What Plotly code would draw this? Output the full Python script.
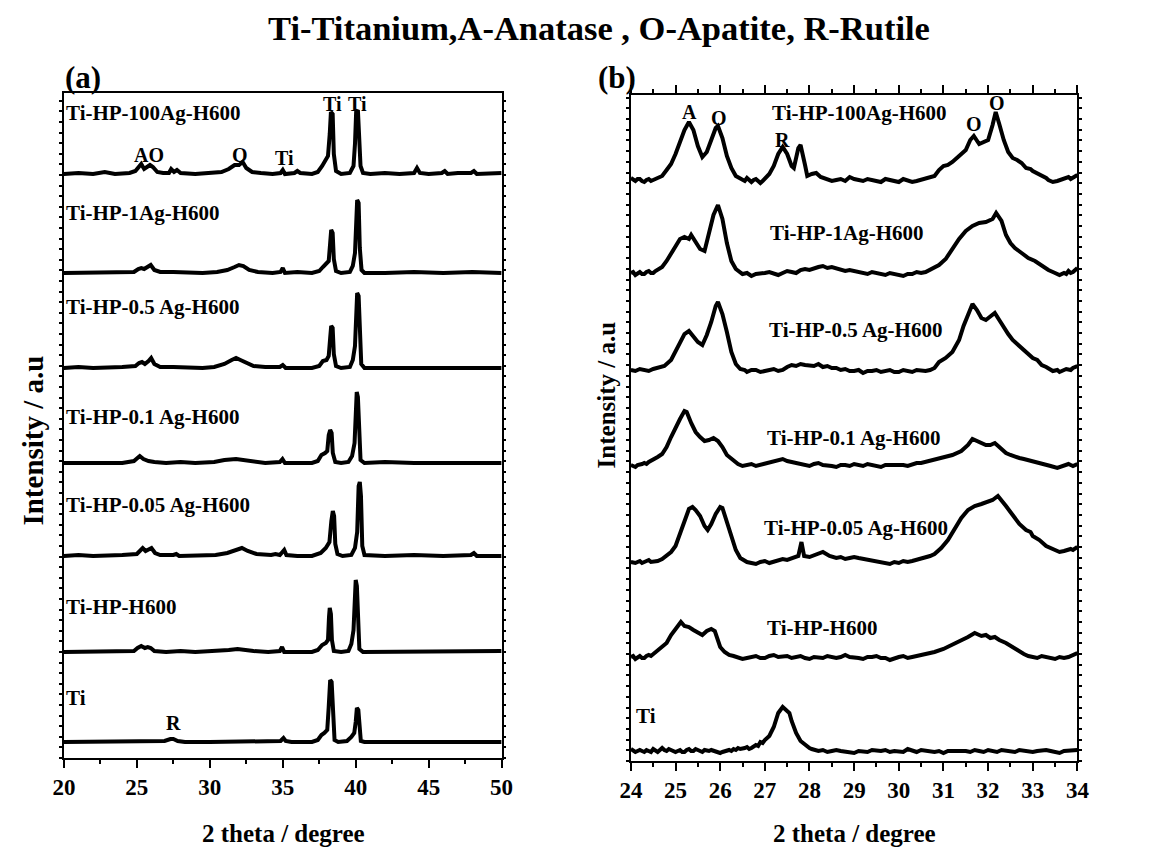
import plotly.graph_objects as go

W, H = 1156, 851

# ---------------- Panel (a): 2theta 20-50, (2theta, relative intensity) ----------------
A_100AG = [(20,0),(21,1),(22,0),(22.8,2),(23.5,0),(24.5,1),(24.9,3),(25.15,7),(25.3,10),(25.5,5),(25.7,7),(25.9,9),(26.1,7),(26.4,2),(26.8,1),(27.2,1),(27.35,5),(27.55,2),(27.75,4),(28.0,1),(29,0),(30,1),(30.8,2),(31.3,5),(31.7,9),(32.0,9),(32.25,12),(32.5,6),(32.9,2),(33.5,1),(34.3,0),(34.85,1),(35.0,4),(35.15,0),(35.8,1),(36.0,3),(36.2,1),(37.0,0),(37.4,2),(37.7,8),(37.95,14),(38.1,18),(38.22,40),(38.3,62),(38.42,60),(38.5,20),(38.65,3),(39.0,0),(39.6,1),(39.85,8),(39.95,30),(40.03,62),(40.15,64),(40.25,40),(40.33,8),(40.5,1),(41,0),(42,1),(43,0),(44.0,1),(44.2,6),(44.4,1),(45,0),(45.9,1),(46.1,3),(46.3,0),(47,1),(47.9,1),(48.1,3),(48.3,0),(49,0),(50,1)]
A_1AG = [(20,0),(21,0),(22,1),(23,0),(24,0),(24.8,1),(25.1,4),(25.3,5),(25.5,4),(25.75,6),(25.95,8),(26.2,3),(26.6,1),(27.5,1),(28.5,0),(29.5,0),(30.5,1),(31.2,3),(31.7,6),(32.0,8),(32.3,7),(32.7,3),(33.3,1),(34.3,0),(34.85,1),(35.0,5),(35.15,0),(36,1),(37.0,0),(37.5,2),(37.75,6),(38.0,9),(38.15,12),(38.25,30),(38.32,43),(38.42,40),(38.5,14),(38.65,2),(39.0,0),(39.6,1),(39.8,7),(39.95,20),(40.03,60),(40.1,73),(40.2,70),(40.28,25),(40.4,3),(40.6,0),(42,0),(44,1),(46,0),(48,1),(50,0)]
A_05AG = [(20,0),(21,1),(22,0),(23,0),(24,1),(24.9,2),(25.15,5),(25.35,6),(25.55,4),(25.8,7),(25.98,10),(26.2,4),(26.6,1),(27.5,1),(28.5,0),(29.5,0),(30.3,1),(31.0,4),(31.5,8),(31.8,10),(32.1,8),(32.5,5),(33.0,2),(33.8,1),(34.8,1),(35.0,3),(35.2,0),(36,0),(37.0,0),(37.5,2),(37.75,7),(38.0,8),(38.15,12),(38.25,30),(38.32,42),(38.42,40),(38.5,14),(38.65,2),(39.0,0),(39.6,1),(39.8,8),(39.95,22),(40.03,62),(40.1,75),(40.2,72),(40.28,30),(40.38,4),(40.6,0),(42,0),(44,1),(46,0),(47,1),(48,1),(49,0),(50,0)]
A_01AG = [(20,0),(21,0),(22,1),(23,0),(24,0),(24.8,2),(25.0,5),(25.2,7),(25.45,4),(25.8,2),(26.2,1),(27,0),(28,1),(29,0),(30.3,1),(31.0,3),(31.8,4),(32.3,3),(32.8,1),(33.8,0),(34.8,1),(34.98,4),(35.15,0),(36,0),(37.0,0),(37.4,2),(37.65,8),(37.9,10),(38.05,12),(38.15,28),(38.25,33),(38.35,30),(38.43,10),(38.6,1),(39.0,0),(39.5,1),(39.75,7),(39.92,20),(40.0,55),(40.07,71),(40.15,66),(40.23,25),(40.33,3),(40.6,0),(42,1),(44,0),(46,0),(48,1),(50,0)]
A_005AG = [(20,0),(21,1),(22,0),(23,0),(24,1),(25.0,2),(25.2,5),(25.4,8),(25.6,5),(25.85,7),(26.0,8),(26.25,3),(26.6,1),(27.5,1),(27.7,2),(27.9,0),(29,0),(30.4,1),(31.2,3),(31.7,6),(32.2,8),(32.6,5),(33.2,2),(34.2,1),(34.5,2),(34.8,1),(35.1,6),(35.25,1),(36,0),(37.0,0),(37.6,3),(37.95,8),(38.2,14),(38.33,35),(38.43,45),(38.52,40),(38.6,12),(38.75,2),(39.1,0),(39.7,1),(39.95,8),(40.1,24),(40.2,70),(40.28,74),(40.36,60),(40.45,10),(40.6,1),(42,0),(44,1),(46,0),(47.9,1),(48.1,3),(48.3,0),(50,0)]
A_H600 = [(20,0),(21,0),(22,1),(23,0),(24,0),(24.8,1),(25.05,4),(25.3,6),(25.55,4),(25.75,5),(25.95,4),(26.2,1),(27,0),(28,1),(29,0),(30.5,1),(31.3,2),(31.9,3),(32.4,2),(33,1),(34,0),(34.8,1),(34.95,5),(35.1,0),(36,0),(37.0,0),(37.4,2),(37.7,7),(37.95,9),(38.1,12),(38.17,35),(38.22,44),(38.3,38),(38.37,12),(38.5,1),(39.0,0),(39.5,1),(39.7,8),(39.85,22),(39.93,55),(40.0,72),(40.08,66),(40.15,25),(40.25,3),(40.5,0),(42,0),(44,1),(46,0),(48,0),(50,1)]
A_TI = [(20,0),(22,0),(24,0),(26,0),(26.9,1),(27.3,3),(27.5,3),(27.8,1),(28.3,0),(30,0),(32,0),(34,0),(34.85,1),(35.05,4),(35.2,1),(35.6,0),(37.0,0),(37.4,2),(37.65,7),(37.85,9),(38.05,12),(38.15,35),(38.25,62),(38.35,60),(38.45,20),(38.55,2),(38.8,0),(39.4,1),(39.7,5),(39.9,9),(40.0,20),(40.08,34),(40.18,32),(40.26,10),(40.35,1),(40.6,0),(42,0),(44,0),(46,0),(48,0),(50,0)]

A_SERIES = [A_100AG, A_1AG, A_05AG, A_01AG, A_005AG, A_H600, A_TI]
A_OFFSETS = [584, 485, 390, 295, 202, 106, 16]

# ---------------- Panel (b): 2theta 24-34 ----------------
B_100AG = [(24.0,2),(24.05,0),(24.1,-1),(24.15,1),(24.2,1),(24.25,-1),(24.3,-2),(24.35,0),(24.4,1),(24.45,-1),(24.5,0),(24.55,2),(24.6,2),(24.65,3),(24.7,4),(24.8,10),(24.9,16),(25.0,26),(25.1,38),(25.2,50),(25.3,58),(25.4,50),(25.5,34),(25.6,23),(25.7,28),(25.8,40),(25.9,52),(25.95,54),(26.05,42),(26.15,24),(26.25,12),(26.35,4),(26.45,2),(26.5,0),(26.55,-1),(26.6,2),(26.65,0),(26.7,-2),(26.75,0),(26.8,1),(26.85,-1),(26.9,-3),(26.95,-1),(27.0,1),(27.1,6),(27.2,14),(27.3,26),(27.4,33),(27.5,26),(27.6,14),(27.65,12),(27.75,32),(27.8,35),(27.9,15),(27.95,4),(28.05,6),(28.15,7),(28.25,3),(28.3,2),(28.4,1),(28.5,-1),(28.6,0),(28.7,1),(28.8,-1),(28.9,3),(29.0,1),(29.1,0),(29.2,-1),(29.3,1),(29.4,0),(29.5,-1),(29.6,-2),(29.7,1),(29.8,0),(29.9,-1),(30.0,-2),(30.1,1),(30.2,0),(30.3,-2),(30.4,-1),(30.5,0),(30.6,1),(30.7,2),(30.8,4),(30.9,10),(31.0,14),(31.1,15),(31.2,18),(31.35,24),(31.5,30),(31.6,40),(31.68,44),(31.8,36),(31.9,38),(32.0,40),(32.1,55),(32.17,68),(32.25,56),(32.35,40),(32.45,28),(32.55,22),(32.65,20),(32.75,17),(32.85,12),(32.95,11),(33.0,9),(33.1,7),(33.2,4),(33.3,2),(33.35,0),(33.45,-2),(33.55,-1),(33.6,0),(33.7,1),(33.8,3),(33.85,1),(33.9,2),(33.95,4),(34.0,5)]
B_1AG = [(24.0,0),(24.05,1),(24.1,-2),(24.15,0),(24.2,1),(24.25,-1),(24.3,-1),(24.35,1),(24.4,2),(24.45,0),(24.5,0),(24.55,2),(24.6,3),(24.7,6),(24.8,12),(24.9,20),(25.0,28),(25.1,34),(25.2,36),(25.3,34),(25.35,38),(25.45,30),(25.55,24),(25.65,22),(25.75,40),(25.85,58),(25.95,68),(26.05,54),(26.15,30),(26.25,12),(26.35,4),(26.45,1),(26.5,-1),(26.6,0),(26.7,-3),(26.8,-1),(26.9,-1),(27.0,0),(27.1,1),(27.2,-1),(27.3,-2),(27.4,0),(27.5,2),(27.6,1),(27.7,0),(27.8,3),(27.9,4),(28.0,3),(28.1,5),(28.2,6),(28.3,7),(28.4,5),(28.5,6),(28.6,5),(28.7,4),(28.8,2),(28.9,3),(29.0,2),(29.1,1),(29.2,0),(29.3,-1),(29.4,1),(29.5,0),(29.6,-1),(29.7,-2),(29.8,0),(29.9,-1),(30.0,-2),(30.1,-3),(30.2,-1),(30.3,-1),(30.4,1),(30.5,0),(30.6,1),(30.7,3),(30.8,5),(30.9,8),(31.05,14),(31.2,24),(31.35,34),(31.5,42),(31.65,47),(31.8,50),(31.95,51),(32.1,54),(32.18,60),(32.3,52),(32.4,38),(32.5,30),(32.6,25),(32.75,20),(32.9,15),(33.05,12),(33.2,7),(33.35,3),(33.45,1),(33.5,0),(33.6,-2),(33.7,0),(33.75,-1),(33.8,2),(33.85,0),(33.9,1),(33.95,3),(34.0,5)]
B_05AG = [(24.0,0),(24.1,-1),(24.2,1),(24.3,0),(24.4,-1),(24.5,1),(24.6,2),(24.75,4),(24.9,10),(25.0,18),(25.1,28),(25.2,36),(25.3,39),(25.4,33),(25.5,28),(25.6,25),(25.7,35),(25.8,48),(25.9,64),(25.95,68),(26.05,56),(26.15,38),(26.25,18),(26.35,6),(26.45,1),(26.55,0),(26.6,-2),(26.7,0),(26.8,0),(26.9,-2),(27.0,-1),(27.1,0),(27.2,1),(27.3,-1),(27.4,0),(27.5,3),(27.6,5),(27.7,4),(27.8,6),(27.9,5),(28.0,5),(28.1,4),(28.2,6),(28.3,3),(28.4,4),(28.5,2),(28.6,2),(28.7,0),(28.8,1),(28.9,-1),(29.0,-1),(29.1,0),(29.2,-3),(29.3,-1),(29.4,-1),(29.5,0),(29.6,-2),(29.7,-1),(29.8,0),(29.9,-2),(30.0,-2),(30.1,0),(30.2,-1),(30.3,-2),(30.4,0),(30.5,-1),(30.6,-1),(30.7,0),(30.8,2),(30.9,8),(31.05,12),(31.2,18),(31.35,30),(31.45,44),(31.55,56),(31.65,66),(31.75,60),(31.85,52),(31.95,50),(32.05,54),(32.15,57),(32.25,50),(32.35,42),(32.45,36),(32.55,30),(32.7,24),(32.85,18),(33.0,12),(33.1,10),(33.2,5),(33.3,3),(33.4,1),(33.45,-1),(33.55,0),(33.6,-2),(33.7,0),(33.75,1),(33.85,0),(33.9,2),(34.0,4)]
B_01AG = [(24.0,0),(24.05,-1),(24.1,-2),(24.15,0),(24.2,0),(24.25,1),(24.3,2),(24.35,1),(24.4,3),(24.5,5),(24.6,8),(24.7,11),(24.8,18),(24.9,28),(25.0,38),(25.1,46),(25.2,54),(25.25,53),(25.35,42),(25.45,33),(25.55,28),(25.65,24),(25.75,25),(25.85,27),(25.95,24),(26.05,18),(26.15,10),(26.3,4),(26.4,1),(26.5,-1),(26.6,0),(26.7,1),(26.8,-1),(26.9,0),(27.0,1),(27.1,2),(27.2,3),(27.3,4),(27.4,6),(27.5,4),(27.6,3),(27.7,2),(27.8,1),(27.9,0),(28.0,-1),(28.1,1),(28.2,2),(28.3,0),(28.4,0),(28.5,-1),(28.6,-2),(28.7,0),(28.8,0),(28.9,-1),(29.0,1),(29.1,0),(29.2,-1),(29.3,1),(29.4,0),(29.5,-1),(29.6,-2),(29.7,0),(29.8,0),(29.9,1),(30.0,1),(30.1,0),(30.2,-1),(30.3,1),(30.4,2),(30.5,2),(30.6,3),(30.7,4),(30.8,5),(31.0,8),(31.2,10),(31.4,14),(31.55,20),(31.65,26),(31.75,24),(31.85,21),(31.95,20),(32.05,20),(32.15,22),(32.25,18),(32.4,12),(32.5,10),(32.6,8),(32.7,7),(32.8,6),(32.9,5),(33.0,4),(33.1,3),(33.2,2),(33.3,0),(33.4,-1),(33.55,-3),(33.6,-2),(33.7,-1),(33.8,1),(33.85,0),(33.9,-1),(34.0,1)]
B_005AG = [(24.0,0),(24.05,-1),(24.1,-1),(24.15,0),(24.2,1),(24.25,-1),(24.3,0),(24.35,1),(24.4,2),(24.45,0),(24.5,0),(24.55,1),(24.6,1),(24.7,3),(24.8,6),(24.9,10),(25.0,16),(25.1,28),(25.2,42),(25.3,53),(25.38,55),(25.45,52),(25.55,46),(25.65,36),(25.72,32),(25.8,38),(25.9,48),(26.0,55),(26.05,54),(26.15,40),(26.25,26),(26.35,12),(26.45,4),(26.55,1),(26.6,0),(26.7,-1),(26.8,-2),(26.9,0),(27.0,1),(27.1,-1),(27.2,0),(27.3,2),(27.4,3),(27.5,2),(27.6,4),(27.7,5),(27.75,6),(27.82,20),(27.88,6),(28.0,5),(28.1,7),(28.15,8),(28.3,10),(28.45,6),(28.55,5),(28.6,4),(28.7,5),(28.8,3),(28.9,4),(29.0,5),(29.1,4),(29.2,3),(29.3,2),(29.4,1),(29.5,0),(29.6,-1),(29.7,-1),(29.8,-2),(29.9,0),(30.0,-1),(30.1,1),(30.2,0),(30.3,1),(30.4,2),(30.5,3),(30.6,4),(30.7,6),(30.8,8),(30.95,14),(31.1,22),(31.25,34),(31.4,44),(31.55,52),(31.7,56),(31.85,58),(32.0,60),(32.1,62),(32.22,66),(32.3,62),(32.4,56),(32.5,50),(32.6,44),(32.7,38),(32.85,32),(32.95,30),(33.0,26),(33.1,24),(33.15,22),(33.3,16),(33.4,14),(33.45,12),(33.55,11),(33.6,10),(33.7,11),(33.75,12),(33.85,13),(33.9,12),(34.0,15)]
B_H600 = [(24.0,0),(24.05,1),(24.1,-2),(24.15,0),(24.2,1),(24.25,-1),(24.3,-1),(24.35,1),(24.4,2),(24.45,1),(24.5,3),(24.6,6),(24.7,10),(24.8,14),(24.9,22),(25.0,28),(25.05,32),(25.12,35),(25.2,31),(25.3,30),(25.4,27),(25.5,24),(25.6,22),(25.7,26),(25.8,28),(25.88,26),(25.95,18),(26.0,10),(26.1,5),(26.2,2),(26.3,1),(26.4,0),(26.5,-2),(26.6,-1),(26.7,0),(26.8,1),(26.9,-1),(27.0,-1),(27.1,1),(27.2,2),(27.3,0),(27.4,0),(27.5,1),(27.6,-1),(27.7,0),(27.8,1),(27.9,-1),(28.0,-2),(28.1,0),(28.2,0),(28.3,-1),(28.4,1),(28.5,0),(28.6,-1),(28.7,0),(28.8,2),(28.9,0),(29.0,0),(29.1,-1),(29.2,-2),(29.3,0),(29.4,0),(29.5,1),(29.6,-1),(29.7,-1),(29.8,-3),(29.9,-1),(30.0,0),(30.1,1),(30.2,-1),(30.3,0),(30.4,1),(30.5,1),(30.6,2),(30.7,3),(30.8,5),(31.0,8),(31.2,12),(31.4,16),(31.55,20),(31.7,24),(31.85,21),(31.95,22),(32.05,19),(32.15,20),(32.25,17),(32.4,14),(32.55,10),(32.7,5),(32.8,3),(32.9,1),(33.0,0),(33.1,-1),(33.2,1),(33.3,0),(33.4,-1),(33.5,-2),(33.6,0),(33.7,-1),(33.8,0),(33.85,1),(33.9,2),(34.0,4)]
B_TI = [(24.0,2),(24.05,0),(24.1,-1),(24.15,0),(24.2,1),(24.25,0),(24.3,-1),(24.35,1),(24.4,0),(24.45,-1),(24.5,2),(24.55,0),(24.6,-1),(24.65,1),(24.7,3),(24.75,1),(24.8,0),(24.85,2),(24.9,1),(24.95,0),(25.0,-1),(25.05,0),(25.1,1),(25.15,-1),(25.2,-1),(25.25,1),(25.3,2),(25.35,0),(25.4,0),(25.45,2),(25.5,1),(25.55,0),(25.6,-1),(25.65,1),(25.7,0),(25.75,0),(25.8,1),(25.85,0),(25.9,0),(25.95,-1),(26.0,-2),(26.05,-1),(26.1,0),(26.15,1),(26.2,1),(26.25,0),(26.3,2),(26.35,1),(26.4,3),(26.45,2),(26.5,2),(26.55,3),(26.6,4),(26.65,2),(26.7,3),(26.75,5),(26.8,6),(26.85,5),(26.9,9),(26.95,8),(27.0,11),(27.1,15),(27.2,24),(27.3,38),(27.35,42),(27.4,44),(27.45,42),(27.5,40),(27.55,38),(27.6,30),(27.7,18),(27.8,10),(27.9,6),(28.0,3),(28.05,2),(28.1,1),(28.2,0),(28.3,1),(28.4,-1),(28.5,0),(28.6,1),(28.7,0),(28.8,-1),(28.9,-1),(29.0,-2),(29.1,0),(29.2,0),(29.3,-1),(29.4,1),(29.5,0),(29.6,0),(29.7,1),(29.8,-1),(29.9,0),(30.0,0),(30.1,-1),(30.2,2),(30.3,0),(30.4,-1),(30.5,1),(30.6,0),(30.7,-1),(30.8,-1),(30.9,0),(31.0,-2),(31.1,0),(31.2,0),(31.3,1),(31.4,1),(31.5,0),(31.6,-1),(31.7,1),(31.8,0),(31.9,-1),(32.0,1),(32.1,0),(32.2,-1),(32.3,1),(32.4,0),(32.5,0),(32.6,-1),(32.7,1),(32.8,0),(32.9,-1),(33.0,-1),(33.1,0),(33.2,1),(33.3,1),(33.4,0),(33.5,-1),(33.6,-2),(33.7,0),(33.8,0),(33.9,1),(34.0,1)]

B_SERIES = [B_100AG, B_1AG, B_05AG, B_01AG, B_005AG, B_H600, B_TI]
B_OFFSETS = [581, 488, 391, 296, 199, 104, 10]

SAMPLE_NAMES = ["Ti-HP-100Ag-H600", "Ti-HP-1Ag-H600", "Ti-HP-0.5 Ag-H600", "Ti-HP-0.1 Ag-H600",
                "Ti-HP-0.05 Ag-H600", "Ti-HP-H600", "Ti"]

# label positions (2theta, intensity)
A_NAME_POS = [(20.1, 645), (20.1, 545), (20.1, 451), (20.1, 341), (20.1, 253), (20.1, 151), (20.1, 60)]
A_PEAKS = [("AO", 25.84, 603), ("O", 32.08, 603), ("Ti", 35.1, 600), ("Ti", 38.4, 654), ("Ti", 40.1, 654), ("R", 27.5, 35)]
B_NAME_POS = [(29.11, 648), (28.85, 528), (29.04, 431), (28.98, 323), (29.04, 233), (28.28, 133), (24.33, 45)]
B_PEAKS = [("A", 25.32, 649), ("O", 25.97, 643), ("R", 27.4, 621), ("O", 31.68, 637), ("O", 32.2, 658)]

FONT = "'Liberation Serif', 'Times New Roman', Times, serif"
fig = go.Figure()

for pts, off in zip(A_SERIES, A_OFFSETS):
    fig.add_trace(go.Scatter(x=[p[0] for p in pts], y=[p[1] + off for p in pts], mode="lines",
                             line=dict(color="black", width=4), xaxis="x", yaxis="y",
                             showlegend=False, hoverinfo="skip"))
for pts, off in zip(B_SERIES, B_OFFSETS):
    fig.add_trace(go.Scatter(x=[p[0] for p in pts], y=[p[1] + off for p in pts], mode="lines",
                             line=dict(color="black", width=4), xaxis="x2", yaxis="y2",
                             showlegend=False, hoverinfo="skip"))

ann = []
def txt(t, x, y, xref, yref, size, xanchor="center", angle=0):
    ann.append(dict(text="<b>%s</b>" % t, x=x, y=y, xref=xref, yref=yref, showarrow=False,
                    xanchor=xanchor, yanchor="middle", textangle=angle, borderpad=0,
                    font=dict(family=FONT, size=size, color="black")))

for name, (x, y) in zip(SAMPLE_NAMES, A_NAME_POS):
    txt(name, x, y, "x", "y", 21, xanchor="left")
for t, x, y in A_PEAKS:
    txt(t, x, y, "x", "y", 20)
for name, (x, y) in zip(SAMPLE_NAMES, B_NAME_POS):
    txt(name, x, y, "x2", "y2", 21)
for t, x, y in B_PEAKS:
    txt(t, x, y, "x2", "y2", 20)

def px(xp): return xp / W
def py(yp): return 1 - yp / H

txt("Ti-Titanium,A-Anatase , O-Apatite, R-Rutile", px(599), py(28), "paper", "paper", 34.5)
txt("(a)", px(72), py(78), "paper", "paper", 31)
txt("(b)", px(618), py(78), "paper", "paper", 31)
txt("2 theta / degree", px(277), py(833), "paper", "paper", 25)
txt("2 theta / degree", px(860), py(833), "paper", "paper", 25)
txt("Intensity / a.u", px(21), py(441), "paper", "paper", 29, angle=-90)
txt("Intensity / a.u", px(607), py(395), "paper", "paper", 25, angle=-90)

axis_common = dict(showgrid=False, zeroline=False, showline=True, linecolor="black", linewidth=1.5,
                   tickcolor="black", tickwidth=1.5)
fig.update_layout(
    width=W, height=H, margin=dict(l=0, r=0, t=0, b=0),
    paper_bgcolor="white", plot_bgcolor="white", annotations=ann, showlegend=False,
    font=dict(family=FONT),
    xaxis=dict(domain=[px(53), px(500)], range=[20, 50], anchor="y", tickmode="array",
               tickvals=[20, 25, 30, 35, 40, 45, 50], ticks="outside", ticklen=8, mirror=True,
               minor=dict(dtick=2.5, ticklen=4, ticks="outside", tickcolor="black", tickwidth=1.5),
               tickfont=dict(family=FONT, size=23, color="black", weight="bold"), **axis_common),
    yaxis=dict(domain=[py(758), py(93)], range=[0, 665], anchor="x", showticklabels=False,
               ticks="outside", ticklen=3, dtick=10.6, tick0=0, mirror="ticks", **axis_common),
    xaxis2=dict(domain=[px(632), px(1088)], range=[24, 34], anchor="y2", dtick=1, tick0=24,
                ticks="outside", ticklen=8, mirror="ticks",
                minor=dict(dtick=0.5, ticklen=4, ticks="outside", tickcolor="black", tickwidth=1.5),
                tickfont=dict(family=FONT, size=23, color="black", weight="bold"), **axis_common),
    yaxis2=dict(domain=[py(761), py(95)], range=[0, 666], anchor="x2", showticklabels=False,
                ticks="outside", ticklen=3, dtick=10.7, tick0=0, mirror="ticks", **axis_common),
)

fig.write_html("out.html")
